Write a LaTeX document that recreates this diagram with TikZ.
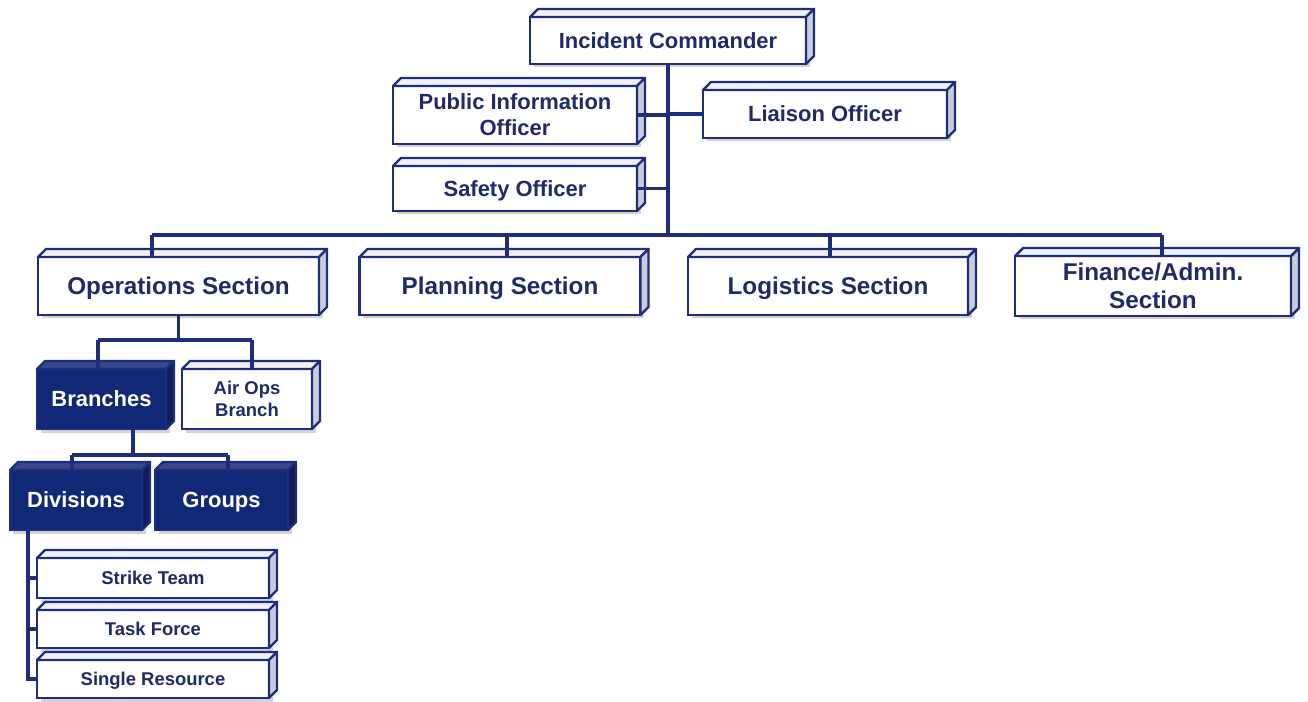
\documentclass[tikz,border=0pt]{standalone}
\usepackage{fontspec}
\setmainfont{Liberation Sans}
\usetikzlibrary{shadows}
\definecolor{icsnavy}{RGB}{30,45,125}
\definecolor{icstext}{RGB}{30,42,105}
\definecolor{icsdark}{RGB}{17,40,118}
\definecolor{icsside}{RGB}{200,205,218}
\definecolor{icstop}{RGB}{240,242,248}

\newcommand{\secfont}{\fontsize{13.8}{15.9}\selectfont\bfseries}
\newcommand{\offfont}{\fontsize{12.5}{14.8}\selectfont\bfseries}
\newcommand{\smallfont}{\fontsize{10.5}{12.5}\selectfont\bfseries}

\tikzset{
  orgbox/.style={draw=icsnavy, line width=1.4pt, fill=white, text=icstext,
    align=center, inner sep=0pt, outer sep=0pt, text depth=-1.5pt,
    drop shadow={shadow xshift=0.07cm, shadow yshift=-0.07cm, opacity=0.35}},
  darkbox/.style={orgbox, fill=icsdark, text=white},
  boxsize/.style 2 args={minimum width=#1*0.02cm, minimum height=#2*0.02cm},
  topface/.style={draw=icsnavy, line width=1.4pt, line join=round, fill=icstop},
  sideface/.style={draw=icsnavy, line width=1.4pt, line join=round, fill=icsside},
  link/.style={draw=icsnavy, line width=2.1pt}
}

\begin{document}
\begin{tikzpicture}[x=0.02cm, y=-0.02cm]
\useasboundingbox (0,0) rectangle (1308,702);

% command staff
\node[orgbox, boxsize={276}{47}, font=\offfont] (ic) at (668,40.5) {Incident Commander};
\node[orgbox, boxsize={244}{58}, font=\offfont] (pio) at (515,115) {Public Information\\Officer};
\node[orgbox, boxsize={244}{48}, font=\offfont] (liaison) at (825,114) {Liaison Officer};
\node[orgbox, boxsize={244}{45}, font=\offfont] (safety) at (515,188.5) {Safety Officer};

% general staff
\node[orgbox, boxsize={281}{58}, font=\secfont] (ops) at (178.5,286) {Operations Section};
\node[orgbox, boxsize={281}{58}, font=\secfont] (plan) at (500,286) {Planning Section};
\node[orgbox, boxsize={280}{58}, font=\secfont] (logi) at (828,286) {Logistics Section};
\node[orgbox, boxsize={276}{60}, font=\secfont] (fin) at (1153,286) {Finance/Admin.\\Section};

% operations
\node[darkbox, boxsize={129}{60}, font=\offfont] (branches) at (101.5,399) {Branches};
\node[orgbox, boxsize={130}{60}, font=\smallfont] (airops) at (247,399) {Air Ops\\Branch};
\node[darkbox, boxsize={132}{60}, font=\offfont] (divisions) at (76,500) {Divisions};
\node[darkbox, boxsize={133}{60}, font=\offfont] (groups) at (221.5,500) {Groups};
\node[orgbox, boxsize={232}{40}, font=\smallfont] (strike) at (153,578) {Strike Team};
\node[orgbox, boxsize={232}{38}, font=\smallfont] (task) at (153,629) {Task Force};
\node[orgbox, boxsize={232}{38}, font=\smallfont] (single) at (153,679) {Single Resource};

% bevels
\foreach \n in {ic,pio,liaison,safety,ops,plan,logi,fin,airops,strike,task,single} {
  \draw[topface] (\n.north west) -- ++(8,-8) -- ([shift={(8,-8)}]\n.north east) -- (\n.north east) -- cycle;
  \draw[sideface] (\n.north east) -- ++(8,-8) -- ([shift={(8,-8)}]\n.south east) -- (\n.south east) -- cycle;
}
\foreach \n in {branches,divisions,groups} {
  \draw[topface, fill=icsdark!85!white] (\n.north west) -- ++(8,-8) -- ([shift={(8,-8)}]\n.north east) -- (\n.north east) -- cycle;
  \draw[sideface, fill=icsdark!75!black] (\n.north east) -- ++(8,-8) -- ([shift={(8,-8)}]\n.south east) -- (\n.south east) -- cycle;
}

% connectors
\coordinate (jops) at (152,235);
\coordinate (jplan) at (507,235);
\coordinate (jlogi) at (830,235);
\coordinate (jfin) at (1162,235);
\draw[link] (ic.south) -- (ic.south |- jops);
\draw[link] (pio.east) -- (pio.east -| ic.south);
\draw[link] (liaison.west) -- (liaison.west -| ic.south);
\draw[link] (safety.east) -- (safety.east -| ic.south);
\draw[link] (jops) -- (jfin);
\foreach \n in {ops,plan,logi,fin}
  \draw[link] (j\n) -- (j\n |- \n.north);

\coordinate (jbr) at (98,340);
\coordinate (jair) at (252,340);
\draw[link] (ops.south) -- (ops.south |- jbr);
\draw[link] (jbr) -- (jair);
\draw[link] (jbr) -- (jbr |- branches.north);
\draw[link] (jair) -- (jair |- airops.north);

\coordinate (jbs) at (133,455);
\coordinate (jdiv) at (72,455);
\coordinate (jgrp) at (228,455);
\draw[link] (jbs |- branches.south) -- (jbs);
\draw[link] (jdiv) -- (jgrp);
\draw[link] (jdiv) -- (jdiv |- divisions.north);
\draw[link] (jgrp) -- (jgrp |- groups.north);

\coordinate (jres) at (28,530);
\draw[link] (jres) |- (single.west);
\foreach \n in {strike,task}
  \draw[link] (jres |- \n.west) -- (\n.west);
\end{tikzpicture}
\end{document}
